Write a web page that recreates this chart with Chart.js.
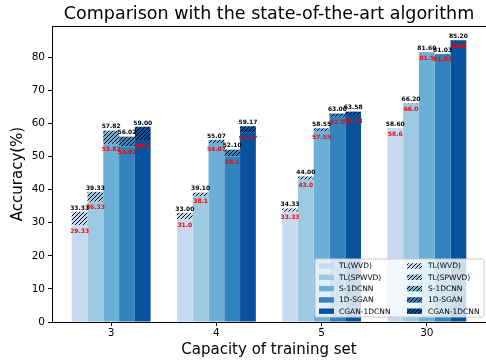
<!DOCTYPE html>
<html>
<head>
<meta charset="utf-8">
<script src="https://cdn.jsdelivr.net/npm/chart.js@4.4.0/dist/chart.umd.min.js"></script>
<style>
  html, body { margin: 0; padding: 0; background: #fff; }
  #wrap { width: 486px; height: 360px; }
</style>
</head>
<body>
<div id="wrap"><canvas id="c" width="486" height="360"></canvas></div>
<script>
// Training-set sizes on the x axis
const categories = ['3', '4', '5', '30'];
const methods = ['TL(WVD)', 'TL(SPWVD)', 'S-1DCNN', '1D-SGAN', 'CGAN-1DCNN'];
const colors = ['#c6dbef', '#9ecae1', '#6baed6', '#3182bd', '#08519c'];

// Base accuracy (solid bars, red labels)
const tlWvd   = [29.33, 31.0, 33.33, 58.6];
const tlSpwvd = [36.33, 38.1, 43.0, 66.0];
const s1dcnn  = [53.82, 54.07, 57.55, 81.5];
const sgan    = [53.02, 50.1, 62.0, 81.03];
const cgan    = [55.0, 57.17, 62.58, 85.0];

// Improved accuracy (hatched bars, black labels)
const tlWvdUp   = [33.33, 33.00, 34.33, 58.60];
const tlSpwvdUp = [39.33, 39.10, 44.00, 66.20];
const s1dcnnUp  = [57.82, 55.07, 58.55, 81.60];
const sganUp    = [56.02, 52.10, 63.00, 81.03];
const cganUp    = [59.00, 59.17, 63.58, 85.20];

const yTicks = [0, 10, 20, 30, 40, 50, 60, 70, 80];

const baseSeries = [tlWvd, tlSpwvd, s1dcnn, sgan, cgan];
const upSeries = [tlWvdUp, tlSpwvdUp, s1dcnnUp, sganUp, cganUp];

const FONT = '"DejaVu Sans", sans-serif';

function hatchPattern(color) {
  const s = 4;
  const c = document.createElement('canvas');
  c.width = s; c.height = s;
  const g = c.getContext('2d');
  g.fillStyle = color;
  g.fillRect(0, 0, s, s);
  g.strokeStyle = '#000';
  g.lineWidth = 1;
  g.beginPath();
  g.moveTo(-1, s + 1); g.lineTo(s + 1, -1);
  g.moveTo(-1, 1); g.lineTo(1, -1);
  g.moveTo(s - 1, s + 1); g.lineTo(s + 1, s - 1);
  g.stroke();
  return g.createPattern(c, 'repeat');
}

function fmtBase(v) {
  return Number.isInteger(v) ? v.toFixed(1) : String(v);
}

const datasets = [];
methods.forEach((m, k) => {
  datasets.push({
    label: m,
    data: baseSeries[k].map((v, i) => ({ x: i, y: v })),
    backgroundColor: colors[k],
    borderWidth: 0,
    stack: 's' + k,
    hatched: false
  });
});
methods.forEach((m, k) => {
  datasets.push({
    label: m,
    data: upSeries[k].map((v, i) => ({ x: i, y: [baseSeries[k][i], v] })),
    backgroundColor: hatchPattern(colors[k]),
    borderWidth: 0,
    stack: 's' + k,
    hatched: true
  });
});

const valueLabels = {
  id: 'valueLabels',
  afterDatasetsDraw(chart) {
    const ctx = chart.ctx;
    const ys = chart.scales.y;
    ctx.save();
    ctx.font = 'bold 6px ' + FONT;
    ctx.textAlign = 'center';
    chart.data.datasets.forEach((ds, di) => {
      const meta = chart.getDatasetMeta(di);
      meta.data.forEach((bar, i) => {
        if (ds.hatched) {
          const v = ds.data[i].y[1];
          ctx.fillStyle = '#000';
          ctx.textBaseline = 'alphabetic';
          ctx.fillText(v.toFixed(2), bar.x, ys.getPixelForValue(v) - 2.2);
        } else {
          const v = ds.data[i].y;
          ctx.fillStyle = '#ff0000';
          ctx.textBaseline = 'top';
          ctx.fillText(fmtBase(v), bar.x, ys.getPixelForValue(v) + 3);
        }
      });
    });
    ctx.restore();
  }
};

const frameAndLegend = {
  id: 'frameAndLegend',
  afterDraw(chart) {
    const ctx = chart.ctx;
    const a = chart.chartArea;
    ctx.save();
    // top spine
    ctx.strokeStyle = '#000';
    ctx.lineWidth = 1;
    ctx.beginPath();
    ctx.moveTo(a.left, Math.round(a.top) + 0.5);
    ctx.lineTo(a.right, Math.round(a.top) + 0.5);
    ctx.stroke();

    // legend box (two columns: solid, hatched)
    const bx = 315, by = 259, bw = 169, bh = 58, r = 2;
    ctx.beginPath();
    ctx.moveTo(bx + r, by);
    ctx.arcTo(bx + bw, by, bx + bw, by + bh, r);
    ctx.arcTo(bx + bw, by + bh, bx, by + bh, r);
    ctx.arcTo(bx, by + bh, bx, by, r);
    ctx.arcTo(bx, by, bx + bw, by, r);
    ctx.closePath();
    ctx.fillStyle = 'rgba(255,255,255,0.8)';
    ctx.fill();
    ctx.strokeStyle = '#cccccc';
    ctx.lineWidth = 1;
    ctx.stroke();

    ctx.font = '7.5px ' + FONT;
    ctx.textBaseline = 'middle';
    ctx.textAlign = 'left';
    const rowY0 = 266, rowStep = 11.3;
    const cols = [{ px: 319, tx: 339 }, { px: 407, tx: 428 }];
    chart.data.datasets.forEach((ds, di) => {
      const col = ds.hatched ? cols[1] : cols[0];
      const row = di % methods.length;
      const cy = rowY0 + row * rowStep;
      ctx.fillStyle = ds.backgroundColor;
      ctx.fillRect(col.px, cy - 2.7, 15, 5.4);
      ctx.fillStyle = '#000';
      ctx.fillText(ds.label, col.tx, cy + 0.5);
    });
    ctx.restore();
  }
};

new Chart(document.getElementById('c'), {
  type: 'bar',
  data: { datasets },
  options: {
    responsive: false,
    devicePixelRatio: 1,
    animation: false,
    layout: { padding: 0 },
    categoryPercentage: 0.75,
    barPercentage: 1.0,
    plugins: {
      legend: { display: false },
      tooltip: { enabled: false },
      title: {
        display: true,
        fullSize: false,
        text: 'Comparison with the state-of-the-art algorithm',
        color: '#000',
        font: { family: FONT, size: 17.5, weight: 'normal', lineHeight: 1.2 },
        padding: { top: 3.5, bottom: 1.5 }
      }
    },
    scales: {
      x: {
        type: 'linear',
        offset: false,
        stacked: true,
        min: -0.5625,
        max: 3.5625,
        afterBuildTicks(scale) {
          scale.ticks = categories.map((c, i) => ({ value: i }));
        },
        afterFit(scale) { scale.height = 38; },
        grid: { display: true, offset: false, drawOnChartArea: false, drawTicks: true, tickLength: 4, color: '#000', lineWidth: 1 },
        border: { display: true, color: '#000', width: 1 },
        ticks: {
          color: '#000',
          padding: 1,
          maxRotation: 0,
          font: { family: FONT, size: 10.5 },
          callback: (v) => categories[Math.round(v)]
        },
        title: {
          display: true,
          text: 'Capacity of training set',
          color: '#000',
          font: { family: FONT, size: 15, lineHeight: 1.2 },
          padding: { top: 0, bottom: 1 }
        }
      },
      y: {
        stacked: false,
        min: 0,
        max: 89.46,
        afterBuildTicks(scale) {
          scale.ticks = yTicks.map(v => ({ value: v }));
        },
        afterFit(scale) { scale.width = 52; },
        grid: { display: true, drawOnChartArea: false, drawTicks: true, tickLength: 4, color: '#000', lineWidth: 1 },
        border: { display: true, color: '#000', width: 1 },
        ticks: {
          color: '#000',
          padding: 3,
          font: { family: FONT, size: 10.5 }
        },
        title: {
          display: true,
          text: 'Accuracy(%)',
          color: '#000',
          font: { family: FONT, size: 15, lineHeight: 1.2 },
          padding: { top: 9, bottom: 0 }
        }
      }
    }
  },
  plugins: [valueLabels, frameAndLegend]
});
</script>
</body>
</html>
